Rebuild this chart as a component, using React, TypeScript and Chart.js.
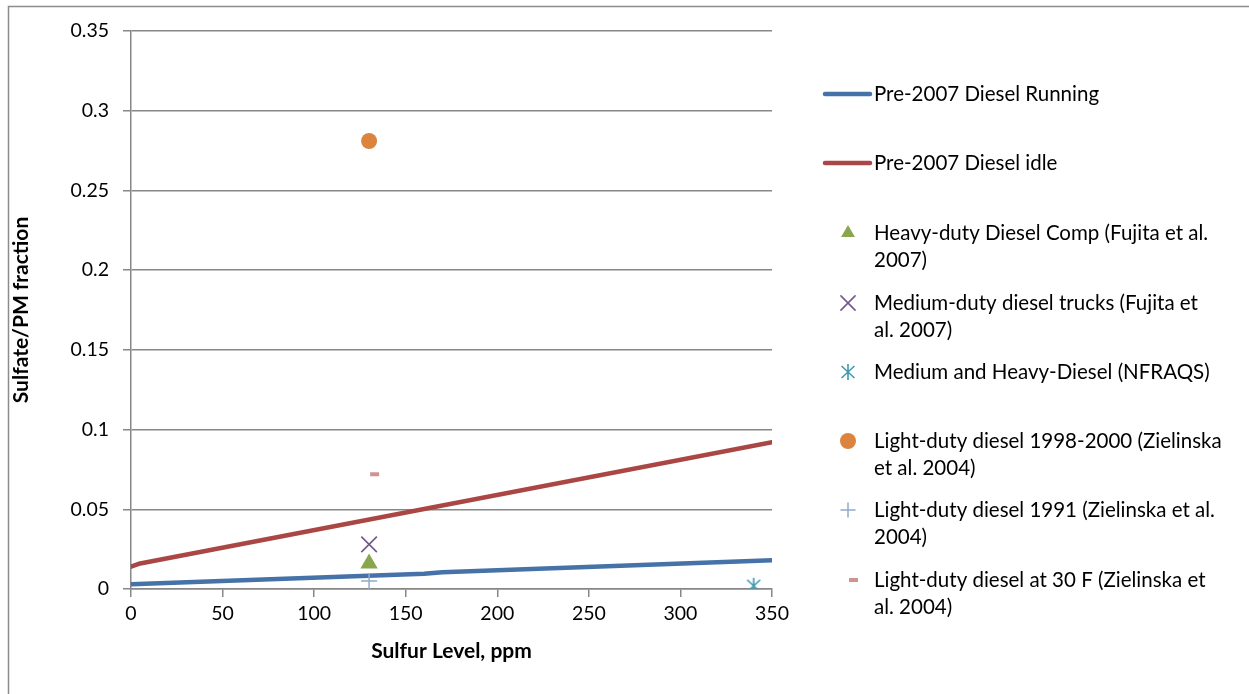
import React, { useEffect, useRef } from "react";
import { Chart, registerables } from "chart.js";
import { drawPoint } from "chart.js/helpers";

Chart.register(...registerables);

// ---------- data ----------
const runningX = [0, 160, 170, 350];
const runningY = [0.003, 0.0095, 0.0105, 0.018];
const idleX = [0, 5, 350];
const idleY = [0.014, 0.016, 0.092];
const hdCompX = [130];
const hdCompY = [0.016];
const mdTrucksX = [130];
const mdTrucksY = [0.028];
const nfraqsX = [340];
const nfraqsY = [0.002];
const ld9800X = [130];
const ld9800Y = [0.281];
const ld1991X = [130];
const ld1991Y = [0.005];
const ld30FX = [130];
const ld30FY = [0.072];

const xTicks = [0, 50, 100, 150, 200, 250, 300, 350];
const xTickLabels = ["0", "50", "100", "150", "200", "250", "300", "350"];
const yTicks = [0, 0.05, 0.1, 0.15, 0.2, 0.25, 0.3, 0.35];
const yTickLabels = ["0", "0.05", "0.1", "0.15", "0.2", "0.25", "0.3", "0.35"];

const seriesNames = [
  ["Pre-2007 Diesel Running"],
  ["Pre-2007 Diesel idle"],
  ["Heavy-duty Diesel Comp (Fujita et al.", "2007)"],
  ["Medium-duty diesel trucks (Fujita et", "al. 2007)"],
  ["Medium and Heavy-Diesel (NFRAQS)"],
  ["Light-duty diesel 1998-2000 (Zielinska", "et al. 2004)"],
  ["Light-duty diesel 1991 (Zielinska et al.", "2004)"],
  ["Light-duty diesel at 30 F (Zielinska et", "al. 2004)"],
];

const xTitle = "Sulfur Level, ppm";
const yTitle = "Sulfate/PM fraction";

// ---------- style ----------
const FONT = "Lato";
const FS_TICK = 19.5;
const FS_LEGEND = 20.5;
const FS_TITLE = 21;
const GRID = "#878787";
const legendRowY = [94, 163, 233, 303, 372, 441, 510, 580];
const LINE_H = 27;

const pts = (xs: number[], ys: number[]) => xs.map((x, i) => ({ x, y: ys[i] }));

function makeAsterisk(color: string) {
  const c = document.createElement("canvas");
  c.width = 18;
  c.height = 18;
  const g = c.getContext("2d")!;
  g.strokeStyle = color;
  g.lineWidth = 1.6;
  g.beginPath();
  g.moveTo(9, 1);
  g.lineTo(9, 17);
  g.moveTo(2.5, 3);
  g.lineTo(15.5, 15);
  g.moveTo(15.5, 3);
  g.lineTo(2.5, 15);
  g.stroke();
  return c;
}

function makeDash(color: string) {
  const c = document.createElement("canvas");
  c.width = 22;
  c.height = 6;
  const g = c.getContext("2d")!;
  g.fillStyle = color;
  g.fillRect(12, 1, 9, 4);
  return c;
}

export default function App() {
  const ref = useRef<HTMLCanvasElement | null>(null);

  useEffect(() => {
    if (!ref.current) return;
    const asterisk = makeAsterisk("#4198AF");
    const dash = makeDash("#D19392");

    const datasets: any[] = [
      {
        label: seriesNames[0].join(" "),
        data: pts(runningX, runningY),
        showLine: true,
        borderColor: "#4572A7",
        backgroundColor: "#4572A7",
        borderWidth: 4.5,
        pointRadius: 0,
        borderCapStyle: "round",
        borderJoinStyle: "round",
        order: 10,
      },
      {
        label: seriesNames[1].join(" "),
        data: pts(idleX, idleY),
        showLine: true,
        borderColor: "#AA4643",
        backgroundColor: "#AA4643",
        borderWidth: 4.5,
        pointRadius: 0,
        borderCapStyle: "round",
        borderJoinStyle: "round",
        order: 9,
      },
      {
        label: seriesNames[2].join(" "),
        data: pts(hdCompX, hdCompY),
        pointStyle: "triangle",
        pointRadius: 10,
        borderWidth: 0,
        backgroundColor: "#89A54E",
        borderColor: "#89A54E",
      },
      {
        label: seriesNames[3].join(" "),
        data: pts(mdTrucksX, mdTrucksY),
        pointStyle: "crossRot",
        pointRadius: 11,
        borderWidth: 1.6,
        backgroundColor: "#71588F",
        borderColor: "#71588F",
      },
      {
        label: seriesNames[4].join(" "),
        data: pts(nfraqsX, nfraqsY),
        pointStyle: asterisk,
        pointRadius: 9,
        borderWidth: 0,
        backgroundColor: "#4198AF",
        borderColor: "#4198AF",
      },
      {
        label: seriesNames[5].join(" "),
        data: pts(ld9800X, ld9800Y),
        pointStyle: "circle",
        pointRadius: 8,
        borderWidth: 0,
        backgroundColor: "#DB843D",
        borderColor: "#DB843D",
      },
      {
        label: seriesNames[6].join(" "),
        data: pts(ld1991X, ld1991Y),
        pointStyle: "cross",
        pointRadius: 8,
        borderWidth: 1.5,
        backgroundColor: "#93A9CF",
        borderColor: "#93A9CF",
      },
      {
        label: seriesNames[7].join(" "),
        data: pts(ld30FX, ld30FY),
        pointStyle: dash,
        pointRadius: 6,
        borderWidth: 0,
        backgroundColor: "#D19392",
        borderColor: "#D19392",
      },
    ];

    const framePlugin = {
      id: "frame",
      beforeDraw(chart: any) {
        const ctx = chart.ctx;
        ctx.save();
        ctx.fillStyle = "#ffffff";
        ctx.fillRect(0, 0, chart.width, chart.height);
        ctx.strokeStyle = "#8c8c8c";
        ctx.lineWidth = 1.5;
        ctx.strokeRect(8.5, 6.5, 2000, 2000);
        ctx.restore();
      },
    };

    const legendPlugin = {
      id: "customLegend",
      afterDraw(chart: any) {
        const ctx = chart.ctx;
        ctx.save();
        ctx.font = `${FS_LEGEND}px ${FONT}`;
        ctx.textBaseline = "middle";
        ctx.textAlign = "left";
        chart.data.datasets.forEach((ds: any, i: number) => {
          const y = legendRowY[i];
          if (ds.showLine) {
            ctx.strokeStyle = ds.borderColor;
            ctx.lineWidth = 4.5;
            ctx.lineCap = "round";
            ctx.beginPath();
            ctx.moveTo(825, y);
            ctx.lineTo(870, y);
            ctx.stroke();
          } else {
            ctx.fillStyle = ds.backgroundColor;
            ctx.strokeStyle = ds.borderColor;
            ctx.lineWidth = ds.borderWidth || 0;
            drawPoint(
              ctx,
              {
                pointStyle: ds.pointStyle,
                radius: ds.pointStyle === "triangle" ? 8 : ds.pointStyle === "circle" ? 8 : ds.pointStyle === "crossRot" ? 10 : ds.pointStyle === "cross" ? 7 : ds.pointRadius,
                rotation: 0,
                borderWidth: ds.borderWidth || 0,
              } as any,
              848,
              y
            );
          }
          ctx.fillStyle = "#000000";
          seriesNames[i].forEach((line, k) => {
            ctx.fillText(line, 874, y + k * LINE_H);
          });
        });
        ctx.restore();
      },
    };

    const chart = new Chart(ref.current, {
      type: "scatter",
      data: { datasets },
      options: {
        responsive: false,
        animation: false,
        devicePixelRatio: 1,
        layout: { padding: { left: 0, top: 31, right: 1249 - 772, bottom: 0 } },
        plugins: {
          legend: { display: false },
          tooltip: { enabled: false },
          title: { display: false },
        },
        scales: {
          x: {
            type: "linear",
            min: 0,
            max: 350,
            afterBuildTicks: (s: any) => {
              s.ticks = xTicks.map((v) => ({ value: v }));
            },
            afterFit: (s: any) => {
              s.height = 694 - 589;
            },
            ticks: {
              color: "#000",
              font: { family: FONT, size: FS_TICK },
              padding: 5,
              maxRotation: 0,
              callback: (v: any) => xTickLabels[xTicks.indexOf(Number(v))] ?? "",
            },
            grid: {
              drawOnChartArea: false,
              drawTicks: true,
              tickLength: 8,
              color: GRID,
              lineWidth: 1.5,
            },
            border: { color: GRID, width: 1.5 },
            title: {
              display: true,
              text: xTitle,
              color: "#000",
              font: { family: FONT, size: FS_TITLE, weight: "bold" },
              padding: { top: 0, bottom: 30 },
            },
          },
          y: {
            type: "linear",
            min: 0,
            max: 0.35,
            afterBuildTicks: (s: any) => {
              s.ticks = yTicks.map((v) => ({ value: v }));
            },
            afterFit: (s: any) => {
              s.width = 131;
            },
            ticks: {
              color: "#000",
              font: { family: FONT, size: FS_TICK },
              padding: 14,
              callback: (v: any) => {
                const idx = yTicks.findIndex((t) => Math.abs(t - Number(v)) < 1e-9);
                return idx >= 0 ? yTickLabels[idx] : "";
              },
            },
            grid: {
              drawTicks: true,
              tickLength: 8,
              color: GRID,
              lineWidth: 1.5,
            },
            border: { color: GRID, width: 1.5 },
            title: {
              display: true,
              text: yTitle,
              color: "#000",
              font: { family: FONT, size: FS_TITLE, weight: "bold" },
              padding: { top: 9, bottom: 0 },
            },
          },
        },
      },
      plugins: [framePlugin, legendPlugin],
    });
    return () => chart.destroy();
  }, []);

  return (
    <canvas
      ref={ref}
      width={1249}
      height={694}
      style={{ position: "absolute", left: 0, top: 0, display: "block" }}
    />
  );
}
